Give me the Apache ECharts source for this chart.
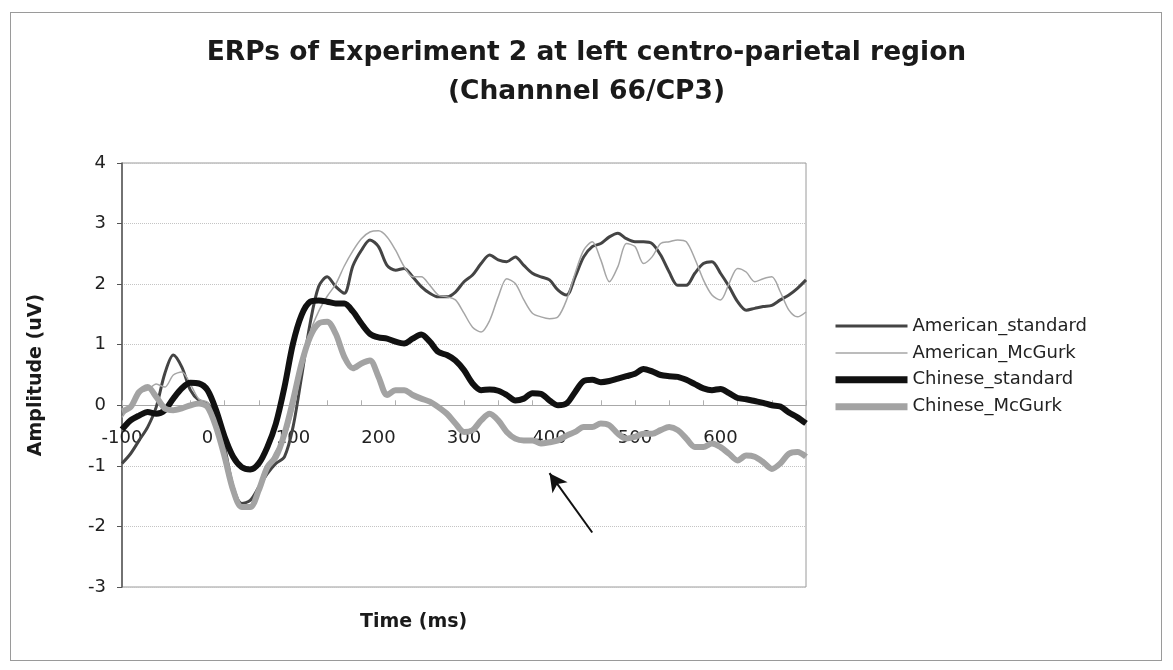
<!DOCTYPE html>
<html>
<head>
<meta charset="utf-8">
<script src="https://cdn.jsdelivr.net/npm/echarts@6/dist/echarts.min.js"></script>
<style>
  body { margin: 0; background: #fff; }
  #wrap { position: relative; width: 1173px; height: 670px; }
  #main { width: 1173px; height: 670px; }
  .frame {
    position: absolute; left: 10px; top: 12px; width: 1150px; height: 647px;
    border: 1px solid #9a9a9a; pointer-events: none;
  }
</style>
</head>
<body>
<div id="wrap">
  <div id="main"></div>
  <div class="frame"></div>
</div>
<script>
// time axis, -100..700 ms every 10 ms
var times = [];
for (var t = -100; t <= 700; t += 10) times.push(String(t));

var americanStandard = [
  -0.96, -0.8, -0.58, -0.36, -0.03, 0.52, 0.83, 0.63, 0.25, 0.08,
  0.03, -0.19, -0.69, -1.35, -1.62, -1.57, -1.35, -1.13, -0.96, -0.85,
  -0.36, 0.47, 1.35, 1.96, 2.12, 1.96, 1.85, 2.3, 2.56, 2.73,
  2.62, 2.31, 2.23, 2.26, 2.12, 1.96, 1.85, 1.79, 1.79, 1.87,
  2.04, 2.15, 2.34, 2.48, 2.4, 2.37, 2.45, 2.31, 2.18, 2.12,
  2.07, 1.9, 1.82, 2.12, 2.45, 2.62, 2.67, 2.78, 2.84, 2.75,
  2.7, 2.7, 2.67, 2.48, 2.2, 1.98, 1.98, 2.18, 2.34, 2.37,
  2.18, 1.96, 1.71, 1.57, 1.6, 1.63, 1.65, 1.74, 1.82, 1.93,
  2.07
];
var americanMcGurk = [
  -0.2, 0.0, 0.2, 0.25, 0.35, 0.3, 0.5, 0.55, 0.35, 0.1,
  0.05, -0.3, -0.9, -1.4, -1.7, -1.65, -1.4, -1.05, -0.75, -0.55,
  -0.1, 0.6, 1.2, 1.55, 1.8, 2.0, 2.3, 2.55, 2.75, 2.86,
  2.88, 2.78, 2.56, 2.29, 2.12, 2.12, 1.98, 1.82, 1.79, 1.74,
  1.52, 1.29, 1.21, 1.4, 1.79, 2.09, 2.01, 1.74, 1.52, 1.46,
  1.43, 1.46, 1.74, 2.18, 2.56, 2.7, 2.4, 2.04, 2.29, 2.67,
  2.62, 2.34, 2.45, 2.67, 2.7, 2.73, 2.7, 2.42, 2.07, 1.82,
  1.74, 2.01, 2.26, 2.2, 2.04, 2.09, 2.12, 1.87, 1.57, 1.46,
  1.54
];
var chineseStandard = [
  -0.4, -0.25, -0.17, -0.11, -0.14, -0.08, 0.11, 0.28, 0.37, 0.36,
  0.25, -0.08, -0.52, -0.85, -1.02, -1.06, -0.96, -0.69, -0.3, 0.3,
  1.02, 1.49, 1.71, 1.73, 1.71, 1.68, 1.68, 1.55, 1.35, 1.18,
  1.12, 1.1, 1.05, 1.02, 1.1, 1.17, 1.05, 0.88, 0.83, 0.74,
  0.58, 0.36, 0.25, 0.26, 0.24, 0.17, 0.08, 0.11, 0.2, 0.19,
  0.08, 0.0, 0.03, 0.22, 0.4, 0.42, 0.38, 0.4, 0.44, 0.48,
  0.52, 0.6, 0.56, 0.5, 0.48, 0.47, 0.42, 0.35, 0.28, 0.25,
  0.27, 0.2, 0.12, 0.1, 0.07, 0.04, 0.0, -0.02, -0.12, -0.2,
  -0.3
];
var chineseMcGurk = [
  -0.1, -0.03, 0.22, 0.3, 0.14, -0.05, -0.08, -0.05, 0.0, 0.03,
  -0.03, -0.36, -0.85, -1.4, -1.68, -1.68, -1.4, -1.02, -0.85, -0.47,
  0.08, 0.69, 1.13, 1.35, 1.38, 1.18, 0.8, 0.61, 0.69, 0.74,
  0.47, 0.17, 0.25, 0.25, 0.17, 0.11, 0.06, -0.03, -0.14, -0.3,
  -0.44, -0.41, -0.25, -0.14, -0.25, -0.44, -0.55, -0.58, -0.58, -0.63,
  -0.61, -0.58, -0.5, -0.44, -0.36, -0.36, -0.3, -0.33, -0.47, -0.55,
  -0.52, -0.47, -0.47, -0.41, -0.36, -0.41, -0.55, -0.69, -0.69, -0.63,
  -0.69, -0.8, -0.91, -0.83, -0.85, -0.94, -1.05, -0.96, -0.8, -0.77,
  -0.85
];

// arrow annotation (data units)
var arrowFrom = ['450', -2.1];
var arrowTo = ['400', -1.12];

var myChart = echarts.init(document.getElementById('main'));
var font = 'DejaVu Sans, Verdana, sans-serif';

var option = {
  animation: false,
  textStyle: { fontFamily: font },
  title: {
    text: 'ERPs of Experiment 2 at left centro-parietal region\n(Channnel 66/CP3)',
    left: 'center',
    top: 29,
    textStyle: { fontSize: 26.5, fontWeight: 'bold', color: '#1a1a1a', lineHeight: 39, fontFamily: font }
  },
  grid: {
    left: 122, right: 367, top: 163, bottom: 83,
    show: true, borderColor: '#9a9a9a', borderWidth: 1
  },
  legend: {
    orient: 'vertical',
    left: 827,
    top: 311,
    itemWidth: 72,
    itemHeight: 14,
    itemGap: 6.9,
    itemStyle: { opacity: 0 },
    textStyle: { fontSize: 18, color: '#222', lineHeight: 20, fontFamily: font },
    data: [
      { name: 'American_standard', lineStyle: { color: '#444', width: 3 } },
      { name: 'American_McGurk', lineStyle: { color: '#a6a6a6', width: 1.5 } },
      { name: 'Chinese_standard', lineStyle: { color: '#111', width: 7 } },
      { name: 'Chinese_McGurk', lineStyle: { color: '#a3a3a3', width: 7 } }
    ]
  },
  xAxis: {
    type: 'category',
    data: times,
    boundaryGap: false,
    axisLine: { onZero: true, lineStyle: { color: '#a8a8a8', width: 1 } },
    axisTick: { show: true, interval: 3, length: 5, inside: true, lineStyle: { color: '#b0b0b0' } },
    axisLabel: {
      fontSize: 18,
      color: '#222',
      margin: -158,
      interval: function (i) { return i % 10 === 0 && i < times.length - 1; }
    },
    splitLine: { show: false }
  },
  yAxis: {
    type: 'value',
    min: -3,
    max: 4,
    interval: 1,
    name: 'Amplitude (uV)',
    nameLocation: 'middle',
    nameRotate: 90,
    nameGap: 76,
    nameTextStyle: { fontSize: 19, fontWeight: 'bold', color: '#1a1a1a', fontFamily: font },
    axisLine: { show: true, lineStyle: { color: '#555', width: 1.5 } },
    axisTick: { show: true, length: 5, lineStyle: { color: '#555' } },
    axisLabel: { fontSize: 18, color: '#222', margin: 16 },
    splitLine: { show: true, lineStyle: { color: '#c4c4c4', type: 'dotted', width: 1 } }
  },
  graphic: [{
    type: 'text',
    left: 360,
    top: 613,
    style: { text: 'Time (ms)', font: 'bold 19px ' + font, fill: '#1a1a1a' }
  }],
  series: [
    {
      name: 'American_standard', type: 'line', data: americanStandard,
      symbol: 'none', smooth: 0.3,
      lineStyle: { color: '#444', width: 3 }, itemStyle: { color: '#444' }
    },
    {
      name: 'American_McGurk', type: 'line', data: americanMcGurk,
      symbol: 'none', smooth: 0.3,
      lineStyle: { color: '#a6a6a6', width: 1.5 }, itemStyle: { color: '#a6a6a6' }
    },
    {
      name: 'Chinese_standard', type: 'line', data: chineseStandard,
      symbol: 'none', smooth: 0.3,
      lineStyle: { color: '#111', width: 6 }, itemStyle: { color: '#111' }
    },
    {
      name: 'Chinese_McGurk', type: 'line', data: chineseMcGurk,
      symbol: 'none', smooth: 0.3,
      lineStyle: { color: '#a3a3a3', width: 6 }, itemStyle: { color: '#a3a3a3' },
      markLine: {
        silent: true,
        symbol: ['none', 'arrow'],
        symbolSize: [14, 18],
        label: { show: false },
        lineStyle: { color: '#111', width: 2, type: 'solid' },
        data: [[{ coord: arrowFrom }, { coord: arrowTo }]]
      }
    }
  ]
};
option && myChart.setOption(option);
</script>
</body>
</html>
